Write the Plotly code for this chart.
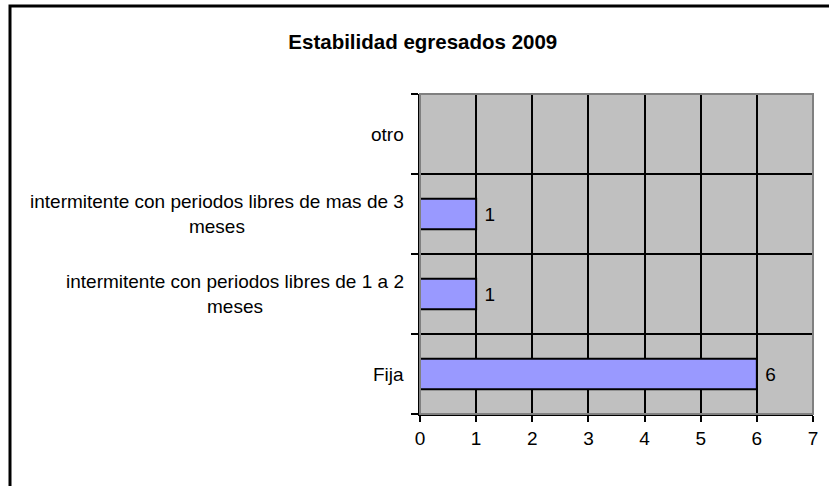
import plotly.graph_objects as go

title = "Estabilidad egresados 2009"
categories = [
    "Fija",
    "intermitente con periodos libres de 1 a 2<br>meses",
    "intermitente con periodos libres de mas de 3<br>meses",
    "otro",
]
values = [6, 1, 1, None]
value_labels = ["6", "1", "1", ""]
x_ticks = [0, 1, 2, 3, 4, 5, 6, 7]

FONT = "Liberation Sans, Arial, sans-serif"

fig = go.Figure()
fig.add_trace(go.Bar(
    y=categories,
    x=values,
    orientation="h",
    marker=dict(color="#9999FF", line=dict(color="black", width=2)),
    text=value_labels,
    texttemplate=" %{text}",
    textposition="outside",
    textfont=dict(family=FONT, size=19, color="black"),
    cliponaxis=False,
    width=0.38,
))

for cat in categories:
    fig.add_annotation(
        x=0, xref="paper", xanchor="right", xshift=-14,
        y=cat, yref="y", yanchor="middle",
        text=cat, showarrow=False, align="center",
        font=dict(family=FONT, size=19, color="black"),
    )

# outer chart frame
fig.add_shape(type="rect", xref="paper", yref="paper",
              x0=(10 - 420) / 393, x1=(840 - 420) / 393,
              y0=(414 - 500) / 320, y1=(414 - 6) / 320,
              line=dict(color="black", width=3), fillcolor="rgba(0,0,0,0)")
# plot area border (grey, right and top)
fig.add_shape(type="rect", xref="paper", yref="paper", x0=0, x1=1, y0=0, y1=1,
              line=dict(color="#808080", width=2), fillcolor="rgba(0,0,0,0)",
              layer="above")

fig.update_layout(
    width=829, height=486,
    margin=dict(l=420, r=16, t=94, b=72),
    paper_bgcolor="white",
    plot_bgcolor="#C0C0C0",
    showlegend=False,
    bargap=0.62,
    title=dict(text="<b>" + title + "</b>", x=0.510, y=1 - 42 / 486,
               xanchor="center", yanchor="middle", xref="container", yref="container",
               font=dict(family=FONT, size=20.5, color="black")),
    xaxis=dict(
        range=[0, 7], tickvals=x_ticks, ticktext=[str(v) for v in x_ticks],
        showgrid=True, gridcolor="black", gridwidth=2,
        showline=True, linecolor="black", linewidth=2,
        ticks="outside", ticklen=6, tickwidth=2, tickcolor="black",
        tickfont=dict(family=FONT, size=19, color="black"),
        zeroline=False, fixedrange=True,
    ),
    yaxis=dict(
        type="category", categoryorder="array", categoryarray=categories,
        tickson="boundaries",
        showgrid=True, gridcolor="black", gridwidth=2,
        showline=True, linecolor="black", linewidth=2,
        ticks="outside", ticklen=7, tickwidth=2, tickcolor="black",
        showticklabels=False, range=[-0.5, 3.5], fixedrange=True,
    ),
)

fig.write_html("out.html", config={"displayModeBar": False},
               post_script="document.body.style.margin='0';")
